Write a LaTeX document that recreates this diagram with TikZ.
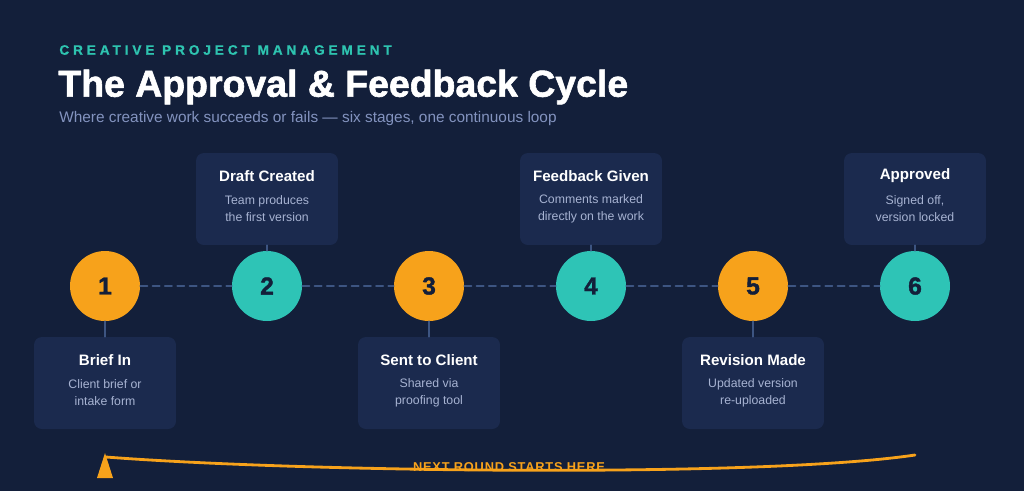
\documentclass[tikz,border=0pt]{standalone}
\usepackage{fontspec}
\setmainfont{Liberation Sans}
\newfontfamily\kickerfont[LetterSpace=28,BoldFeatures={FakeBold=0.6}]{Liberation Sans}
\newfontfamily\heavyfont[BoldFeatures={FakeBold=1.6}]{Liberation Sans}
\newfontfamily\loopfont[LetterSpace=6]{Liberation Sans}
\usetikzlibrary{calc}

\definecolor{bgnavy}{HTML}{131F3A}
\definecolor{boxnavy}{HTML}{1B2A4E}
\definecolor{stageorange}{HTML}{F7A21B}
\definecolor{stageteal}{HTML}{2EC4B6}
\definecolor{kickerteal}{HTML}{2EC4B0}
\definecolor{subgrey}{HTML}{8393BF}
\definecolor{descgrey}{HTML}{A7B3D2}
\definecolor{trackblue}{HTML}{3D5582}

\tikzset{
  stagebox/.style={fill=boxnavy, rounded corners=4.5pt, minimum width=2.84cm, minimum height=1.84cm, inner sep=0pt},
  stagetitle/.style={text=white, font=\bfseries\fontsize{8.6}{10}\selectfont, inner sep=0pt},
  stagedesc/.style={text=descgrey, font=\fontsize{7}{9.6}\selectfont, align=center, inner sep=0pt},
  stagedot/.style={circle, minimum size=1.4cm, inner sep=0pt, text=bgnavy, font=\heavyfont\bfseries\fontsize{14}{14}\selectfont},
  stub/.style={trackblue, line width=1.1pt},
  track/.style={trackblue, line width=1.1pt, dash pattern=on 4pt off 3pt},
  loopline/.style={stageorange, line width=1.6pt, line cap=round},
}

\begin{document}
\begin{tikzpicture}[line cap=round,line join=round,x=0.02cm,y=-0.02cm]
\useasboundingbox (0,0) rectangle (1024,491);
\fill[bgnavy] (0,0) rectangle (1024,491);

% heading
\node[anchor=west, inner sep=0pt, text=kickerteal, font=\kickerfont\bfseries\fontsize{7.8}{9}\selectfont] (kicker) at (59,50) {CREATIVE PROJECT MANAGEMENT};
\node[anchor=west, inner sep=0pt, text=white, font=\heavyfont\bfseries\fontsize{21.3}{24}\selectfont] (title) at (58,87) {The Approval \& Feedback Cycle};
\node[anchor=west, inner sep=0pt, text=subgrey, font=\fontsize{8.75}{11}\selectfont] (subtitle) at (59,119) {Where creative work succeeds or fails — six stages, one continuous loop};

% stages
\node[stagedot, fill=stageorange] (c1) at (105,286) {1};
\node[stagedot, fill=stageteal] (c2) at (267,286) {2};
\node[stagedot, fill=stageorange] (c3) at (429,286) {3};
\node[stagedot, fill=stageteal] (c4) at (591,286) {4};
\node[stagedot, fill=stageorange] (c5) at (753,286) {5};
\node[stagedot, fill=stageteal] (c6) at (915,286) {6};

\draw[track] (c1) -- (c2);
\draw[track] (c2) -- (c3);
\draw[track] (c3) -- (c4);
\draw[track] (c4) -- (c5);
\draw[track] (c5) -- (c6);

\node[stagebox] (b1) at (105,383) {};
\node[stagebox] (b2) at (267,199) {};
\node[stagebox] (b3) at (429,383) {};
\node[stagebox] (b4) at (591,199) {};
\node[stagebox] (b5) at (753,383) {};
\node[stagebox] (b6) at (915,199) {};

\draw[stub] (c1) -- (b1);
\draw[stub] (c2) -- (b2);
\draw[stub] (c3) -- (b3);
\draw[stub] (c4) -- (b4);
\draw[stub] (c5) -- (b5);
\draw[stub] (c6) -- (b6);

\node[stagetitle] (t1) at ($(b1.north)+(0,23)$) {Brief In};
\node[stagedesc] (d1) at ($(b1.north)+(0,56)$) {Client brief or\\intake form};
\node[stagetitle] (t2) at ($(b2.north)+(0,23)$) {Draft Created};
\node[stagedesc] (d2) at ($(b2.north)+(0,56)$) {Team produces\\the first version};
\node[stagetitle] (t3) at ($(b3.north)+(0,23)$) {Sent to Client};
\node[stagedesc] (d3) at ($(b3.north)+(0,56)$) {Shared via\\proofing tool};
\node[stagetitle] (t4) at ($(b4.north)+(0,23)$) {Feedback Given};
\node[stagedesc] (d4) at ($(b4.north)+(0,56)$) {Comments marked\\directly on the work};
\node[stagetitle] (t5) at ($(b5.north)+(0,23)$) {Revision Made};
\node[stagedesc] (d5) at ($(b5.north)+(0,56)$) {Updated version\\re-uploaded};
\node[stagetitle] (t6) at ($(b6.north)+(0,23)$) {Approved};
\node[stagedesc] (d6) at ($(b6.north)+(0,56)$) {Signed off,\\version locked};

% return loop
\coordinate (loopR) at (915,455);
\coordinate (loopL) at (106,457);
\draw[loopline] (loopR) .. controls (760,478) and (300,472) .. (loopL);
\fill[stageorange] (105,453) -- (113,478) -- (97,478) -- cycle;
\node[inner sep=0pt, text=stageorange, font=\loopfont\bfseries\fontsize{7.3}{8}\selectfont] (looptext) at (509,467) {NEXT ROUND STARTS HERE};
\end{tikzpicture}
\end{document}
